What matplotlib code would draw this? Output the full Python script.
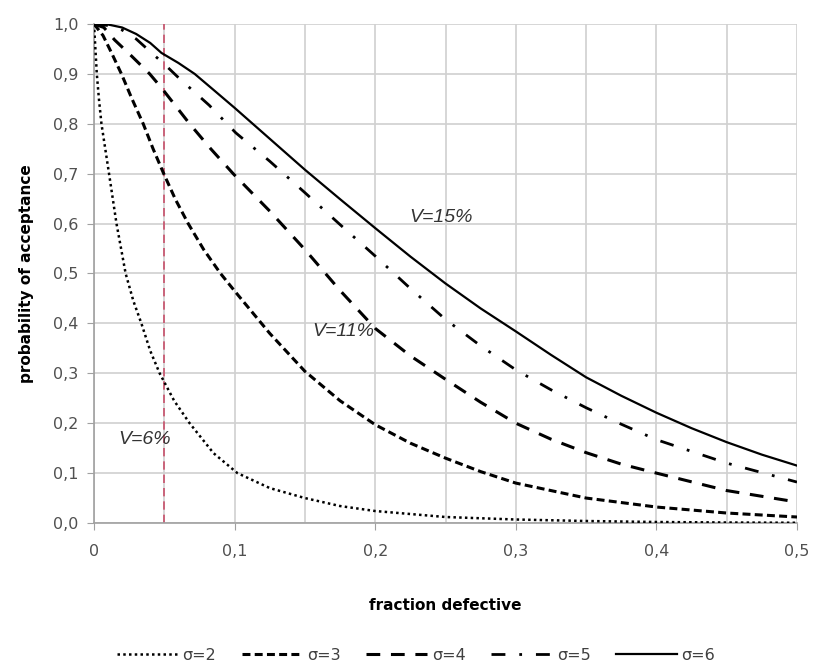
import matplotlib
matplotlib.use("Agg")
import matplotlib.pyplot as plt
from matplotlib.ticker import MultipleLocator, FuncFormatter

# ---- data ----
x_s2 = [0, 0.001, 0.002, 0.0035, 0.0053, 0.008, 0.0107, 0.016, 0.0225, 0.028, 0.0337, 0.04, 0.0467, 0.057, 0.068, 0.085, 0.102, 0.125, 0.15, 0.175, 0.2, 0.25, 0.3, 0.35, 0.4, 0.45, 0.5]
y_s2 = [1.0, 0.95, 0.9, 0.85, 0.8, 0.75, 0.7, 0.6, 0.5, 0.445, 0.4, 0.345, 0.3, 0.245, 0.2, 0.14, 0.1, 0.07, 0.05, 0.034, 0.024, 0.012, 0.007, 0.004, 0.002, 0.001, 0.0005]

x_s3 = [0, 0.0064, 0.0125, 0.0195, 0.027, 0.035, 0.042, 0.0496, 0.058, 0.067, 0.078, 0.09, 0.1, 0.125, 0.15, 0.175, 0.2, 0.225, 0.25, 0.275, 0.3, 0.35, 0.4, 0.45, 0.5]
y_s3 = [1.0, 0.977, 0.942, 0.9, 0.85, 0.8, 0.75, 0.7, 0.648, 0.6, 0.548, 0.5, 0.465, 0.38, 0.304, 0.245, 0.197, 0.16, 0.13, 0.103, 0.08, 0.05, 0.032, 0.02, 0.012]

x_s4 = [0, 0.007, 0.0147, 0.027, 0.0396, 0.048, 0.068, 0.083, 0.099, 0.125, 0.15, 0.175, 0.2, 0.225, 0.25, 0.275, 0.3, 0.325, 0.35, 0.375, 0.4, 0.45, 0.5]
y_s4 = [1.0, 0.993, 0.968, 0.935, 0.9, 0.872, 0.8, 0.75, 0.7, 0.625, 0.548, 0.466, 0.39, 0.335, 0.288, 0.242, 0.2, 0.168, 0.141, 0.118, 0.1, 0.065, 0.042]

x_s5 = [0, 0.01, 0.02, 0.03, 0.041, 0.051, 0.061, 0.082, 0.1008, 0.125, 0.15, 0.175, 0.2, 0.225, 0.25, 0.275, 0.3, 0.325, 0.35, 0.375, 0.4, 0.45, 0.5]
y_s5 = [1.0, 0.997, 0.988, 0.97, 0.942, 0.917, 0.89, 0.837, 0.782, 0.725, 0.662, 0.598, 0.535, 0.47, 0.408, 0.355, 0.307, 0.267, 0.231, 0.198, 0.167, 0.12, 0.082]

x_s6 = [0, 0.01, 0.02, 0.03, 0.04, 0.048, 0.06, 0.0716, 0.085, 0.1, 0.125, 0.15, 0.175, 0.2, 0.225, 0.25, 0.275, 0.3, 0.325, 0.35, 0.375, 0.4, 0.425, 0.45, 0.475, 0.5]
y_s6 = [1.0, 0.999, 0.993, 0.98, 0.962, 0.942, 0.922, 0.9, 0.868, 0.832, 0.77, 0.708, 0.649, 0.591, 0.534, 0.48, 0.43, 0.384, 0.337, 0.292, 0.255, 0.221, 0.19, 0.162, 0.137, 0.115]

labels = ["σ=2", "σ=3", "σ=4", "σ=5", "σ=6"]
aql_x = 0.05
annotations = [("V=15%", 0.2245, 0.612), ("V=11%", 0.155, 0.384), ("V=6%", 0.0176, 0.167)]

xticks = [0, 0.1, 0.2, 0.3, 0.4, 0.5]
xtick_labels = ["0", "0,1", "0,2", "0,3", "0,4", "0,5"]

# ---- figure ----
fig = plt.figure(figsize=(8.16, 6.69), dpi=100)
ax = fig.add_axes([94/816, 1-523/669, (797-94)/816, (523-24)/669])

styles = [
    dict(linestyle=(0, (1, 1.3)), linewidth=1.8),
    dict(linestyle=(0, (2.6, 1.4)), linewidth=2.2),
    dict(linestyle=(0, (4.5, 3.5)), linewidth=2.2),
    dict(linestyle=(0, (5, 5, 1, 5)), linewidth=2.0),
    dict(linestyle="-", linewidth=1.6),
]
series = [(x_s2, y_s2), (x_s3, y_s3), (x_s4, y_s4), (x_s5, y_s5), (x_s6, y_s6)]
handles = []
for (xs, ys), st, lab in zip(series, styles, labels):
    h, = ax.plot(xs, ys, color="black", label=lab, zorder=3, **st)
    handles.append(h)

ax.plot([aql_x, aql_x], [0, 1.0], color="#c8506a", linestyle=(0, (5, 3)), linewidth=1.2, zorder=2)

for txt, tx, ty in annotations:
    ax.text(tx, ty, txt, fontsize=14, style="italic", color="#333333",
            family="Liberation Sans", ha="left", va="center", zorder=4)

ax.set_xlim(0, 0.5)
ax.set_ylim(0, 1.0)
ax.set_xticks(xticks)
ax.set_xticklabels(xtick_labels)
ax.xaxis.set_minor_locator(MultipleLocator(0.05))
ax.yaxis.set_major_locator(MultipleLocator(0.1))
ax.yaxis.set_major_formatter(FuncFormatter(lambda v, p: f"{v:.1f}".replace(".", ",")))

ax.grid(which="both", axis="x", color="#d0d0d0", linewidth=1.2, zorder=0)
ax.grid(which="major", axis="y", color="#d0d0d0", linewidth=1.2, zorder=0)
ax.set_axisbelow(True)

for s in ["top", "right"]:
    ax.spines[s].set_visible(False)
for s in ["left", "bottom"]:
    ax.spines[s].set_color("#a0a0a0")
    ax.spines[s].set_linewidth(1.2)

ax.tick_params(axis="both", which="major", direction="out", length=5, color="#a0a0a0",
               labelsize=11.5, labelcolor="#505050", pad=6)
ax.tick_params(axis="x", which="minor", length=0)
ax.tick_params(axis="x", which="major", pad=10)

ax.set_ylabel("probability of acceptance", fontsize=11, fontweight="bold", color="black", labelpad=14)
ax.set_xlabel("fraction defective", fontsize=11, fontweight="bold", color="black", labelpad=28)

leg = fig.legend(handles=handles, labels=labels, loc="lower center", bbox_to_anchor=(0.51, -0.012),
                 ncol=5, frameon=False, fontsize=11.5, handlelength=3.8, columnspacing=1.6,
                 handletextpad=0.3)
for t in leg.get_texts():
    t.set_color("#404040")

fig.savefig("out.png", dpi=100)
